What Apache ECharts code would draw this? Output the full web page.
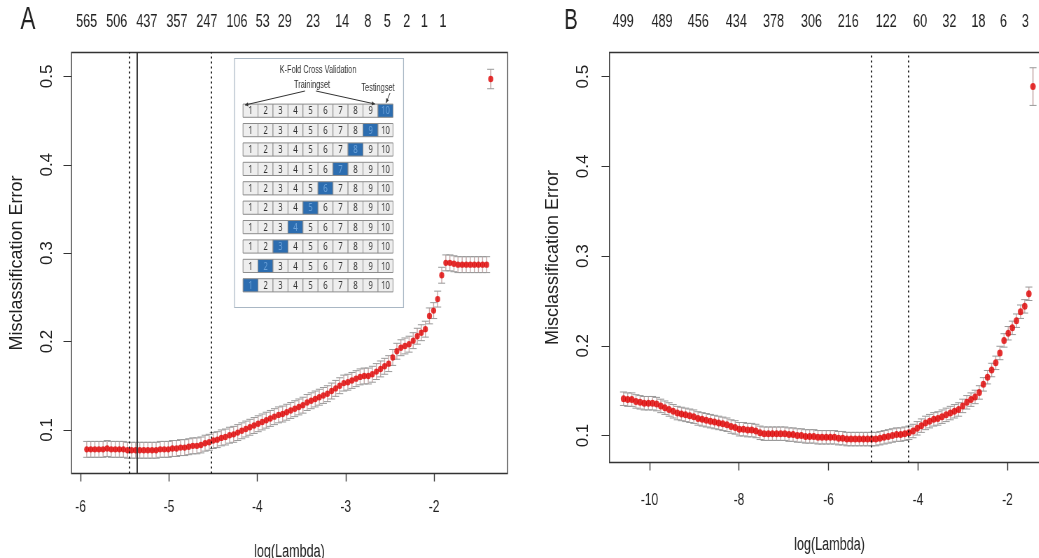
<!DOCTYPE html>
<html><head><meta charset="utf-8">
<script src="https://cdn.jsdelivr.net/npm/echarts@6/dist/echarts.min.js"></script>
<style>
html,body{margin:0;padding:0;background:#fff;overflow:hidden}
#wrap{width:1039px;height:558px;overflow:hidden;position:relative;background:#fff}
#c{width:1484px;height:558px;transform:scale(0.7,1);transform-origin:0 0;position:absolute;left:0;top:0}
#y{width:1039px;height:558px;position:absolute;left:0;top:0}
</style>
</head><body><div id="wrap"><div id="c"></div><div id="y"></div></div>
<script>
// ---------- Panel A data ----------
const logLambdaA = [-5.930,-5.884,-5.838,-5.792,-5.745,-5.699,-5.653,-5.607,-5.561,-5.515,
 -5.468,-5.422,-5.376,-5.330,-5.284,-5.238,-5.191,-5.145,-5.099,-5.053,
 -5.007,-4.961,-4.914,-4.868,-4.822,-4.776,-4.730,-4.684,-4.638,-4.591,
 -4.545,-4.499,-4.453,-4.407,-4.361,-4.314,-4.268,-4.222,-4.176,-4.130,
 -4.084,-4.037,-3.991,-3.945,-3.899,-3.853,-3.807,-3.760,-3.714,-3.668,
 -3.622,-3.576,-3.530,-3.484,-3.437,-3.391,-3.345,-3.299,-3.253,-3.207,
 -3.160,-3.114,-3.068,-3.022,-2.976,-2.930,-2.883,-2.837,-2.791,-2.745,
 -2.699,-2.653,-2.606,-2.560,-2.514,-2.468,-2.422,-2.376,-2.330,-2.283,
 -2.237,-2.191,-2.145,-2.099,-2.053,-2.006,-1.960,-1.914,-1.868,-1.822,
 -1.776,-1.730,-1.683,-1.637,-1.591,-1.545,-1.499,-1.452,-1.406,-1.360];
const errorA = [0.078,0.078,0.078,0.078,0.078,0.079,0.078,0.078,0.078,0.078,
 0.077,0.077,0.077,0.077,0.077,0.077,0.077,0.077,0.078,0.078,
 0.078,0.079,0.079,0.080,0.080,0.081,0.082,0.082,0.083,0.085,
 0.086,0.088,0.089,0.091,0.092,0.094,0.095,0.097,0.099,0.101,
 0.103,0.105,0.107,0.109,0.111,0.113,0.115,0.117,0.118,0.120,
 0.122,0.124,0.126,0.128,0.131,0.133,0.135,0.137,0.139,0.141,
 0.144,0.147,0.150,0.153,0.154,0.156,0.158,0.160,0.161,0.161,
 0.163,0.166,0.169,0.172,0.175,0.182,0.189,0.193,0.195,0.197,
 0.201,0.206,0.210,0.214,0.229,0.235,0.248,0.275,0.289,0.289,
 0.288,0.287,0.287,0.287,0.287,0.287,0.287,0.287,0.287,0.497];
const seA = [0.009,0.009,0.009,0.009,0.009,0.009,0.009,0.009,0.009,0.009,
 0.009,0.009,0.009,0.009,0.009,0.009,0.009,0.009,0.009,0.009,
 0.009,0.009,0.009,0.009,0.009,0.009,0.009,0.009,0.009,0.009,
 0.009,0.009,0.009,0.009,0.009,0.009,0.009,0.009,0.009,0.009,
 0.009,0.009,0.009,0.009,0.009,0.009,0.009,0.009,0.009,0.009,
 0.009,0.009,0.009,0.009,0.009,0.009,0.009,0.009,0.009,0.009,
 0.009,0.009,0.009,0.009,0.009,0.009,0.009,0.009,0.009,0.009,
 0.009,0.009,0.009,0.009,0.009,0.009,0.009,0.009,0.009,0.009,
 0.009,0.009,0.009,0.009,0.009,0.009,0.009,0.009,0.009,0.009,
 0.009,0.009,0.009,0.009,0.009,0.009,0.009,0.009,0.009,0.011];
const topPosA = [-5.93,-5.59,-5.25,-4.91,-4.57,-4.23,-3.94,-3.69,-3.37,-3.04,-2.75,-2.53,-2.31,-2.11,-1.90];
const topLabA = ['565','506','437','357','247','106','53','29','23','14','8','5','2','1','1'];
const bottomTicksA = [-6,-5,-4,-3,-2];
const dottedA = [-5.454, -4.518];
const solidA = [-5.362];

// ---------- Panel B data ----------
const logLambdaB = [-10.580,-10.488,-10.395,-10.303,-10.210,-10.118,-10.025,-9.933,-9.841,-9.748,
 -9.656,-9.563,-9.471,-9.378,-9.286,-9.194,-9.101,-9.009,-8.916,-8.824,
 -8.732,-8.639,-8.547,-8.454,-8.362,-8.269,-8.177,-8.085,-7.992,-7.900,
 -7.807,-7.715,-7.622,-7.530,-7.438,-7.345,-7.253,-7.160,-7.068,-6.975,
 -6.883,-6.791,-6.698,-6.606,-6.513,-6.421,-6.328,-6.236,-6.144,-6.051,
 -5.959,-5.866,-5.774,-5.682,-5.589,-5.497,-5.404,-5.312,-5.219,-5.127,
 -5.035,-4.942,-4.850,-4.757,-4.665,-4.572,-4.480,-4.388,-4.295,-4.203,
 -4.110,-4.018,-3.925,-3.833,-3.741,-3.648,-3.556,-3.463,-3.371,-3.278,
 -3.186,-3.094,-3.001,-2.909,-2.816,-2.724,-2.631,-2.539,-2.447,-2.354,
 -2.262,-2.169,-2.077,-1.984,-1.892,-1.800,-1.707,-1.615,-1.522,-1.430];
const errorB = [0.141,0.140,0.140,0.138,0.137,0.136,0.136,0.136,0.135,0.133,
 0.131,0.129,0.127,0.125,0.124,0.123,0.122,0.121,0.119,0.118,
 0.117,0.116,0.115,0.114,0.113,0.112,0.110,0.109,0.107,0.107,
 0.106,0.106,0.105,0.103,0.102,0.102,0.102,0.102,0.102,0.102,
 0.101,0.101,0.100,0.100,0.099,0.099,0.099,0.098,0.098,0.098,
 0.098,0.098,0.097,0.097,0.096,0.096,0.096,0.096,0.096,0.096,
 0.096,0.096,0.097,0.098,0.099,0.100,0.101,0.101,0.102,0.103,
 0.105,0.108,0.111,0.114,0.116,0.118,0.119,0.121,0.123,0.125,
 0.127,0.129,0.133,0.137,0.140,0.143,0.148,0.157,0.165,0.173,
 0.181,0.192,0.206,0.214,0.220,0.228,0.238,0.244,0.258,0.489];
const seB = [0.0075,0.0075,0.0075,0.0075,0.0075,0.0075,0.0075,0.0075,0.0075,0.0075,
 0.0075,0.0075,0.0075,0.0075,0.0075,0.0075,0.0075,0.0075,0.0075,0.0075,
 0.0075,0.0075,0.0075,0.0075,0.0075,0.0075,0.0075,0.0075,0.0075,0.0075,
 0.0075,0.0075,0.0075,0.0075,0.0075,0.0075,0.0075,0.0075,0.0075,0.0075,
 0.0075,0.0075,0.0075,0.0075,0.0075,0.0075,0.0075,0.0075,0.0075,0.0075,
 0.0075,0.0075,0.0075,0.0075,0.0075,0.0075,0.0075,0.0075,0.0075,0.0075,
 0.0075,0.0075,0.0075,0.0075,0.0075,0.0075,0.0075,0.0075,0.0075,0.0075,
 0.0075,0.0075,0.0075,0.0075,0.0075,0.0075,0.0075,0.0075,0.0075,0.0075,
 0.0075,0.0075,0.0075,0.0075,0.0075,0.0075,0.0075,0.0075,0.0075,0.0075,
 0.0075,0.0075,0.0075,0.0075,0.0075,0.0075,0.0075,0.0075,0.0075,0.021];
const topPosB = [-10.59,-9.72,-8.91,-8.06,-7.23,-6.38,-5.56,-4.71,-3.95,-3.30,-2.65,-2.09,-1.60];
const topLabB = ['499','489','456','434','378','306','216','122','60','32','18','6','3'];
const bottomTicksB = [-10,-8,-6,-4,-2];
const dottedB = [-5.046, -4.212];

const yTicks = [0.1,0.2,0.3,0.4,0.5];

// ---------- Inset (K-fold diagram) data ----------
const folds = ['1','2','3','4','5','6','7','8','9','10'];
const rows = ['r1','r2','r3','r4','r5','r6','r7','r8','r9','r10']; // bottom to top
const testFoldOfRow = [1,2,3,4,5,6,7,8,9,10];

// ---------- layout / styles ----------
const S = 0.7; // horizontal squeeze of the main figure (CSS)
const X = v => v / S;
const SANS = '"Liberation Sans",Arial,sans-serif';
const RED = '#e00000';
const STEM = '#c4a6a6';
const CAP = '#999999';
const yRangeA = [0.0507, 0.527];
const yRangeB = [0.0699, 0.527];
const xRangeA = [-6.102, -1.170];
const xRangeB = [-10.894, -1.061];

function labelFrom(pos, lab) {
  return function (v) {
    for (let k = 0; k < pos.length; k++) if (Math.abs(pos[k] - v) < 1e-6) return lab[k];
    return '';
  };
}

function errRender(params, api) {
  const x = api.value(0), y = api.value(1), se = api.value(2);
  const t = api.coord([x, y + se]), b = api.coord([x, y - se]);
  const w = 5;
  return { type: 'group', children: [
    { type: 'line', shape: { x1: t[0], y1: t[1], x2: b[0], y2: b[1] }, style: { stroke: STEM, lineWidth: 1.4 } },
    { type: 'line', shape: { x1: t[0] - w, y1: t[1], x2: t[0] + w, y2: t[1] }, style: { stroke: CAP, lineWidth: 1 } },
    { type: 'line', shape: { x1: b[0] - w, y1: b[1], x2: b[0] + w, y2: b[1] }, style: { stroke: CAP, lineWidth: 1 } }
  ]};
}

function cellRender(params, api) {
  const c = api.value(0), r = api.value(1), hi = api.value(2);
  const p = api.coord([c, r]);
  const s = api.size([1, 1]);
  const h = s[1] * 0.68;
  return { type: 'group', children: [
    { type: 'rect', shape: { x: p[0] - s[0] / 2, y: p[1] - h / 2, width: s[0], height: h },
      style: { fill: hi ? '#2c6db0' : '#eeeeee', stroke: '#8c8c8c', lineWidth: 1 } },
    { type: 'text', style: { x: p[0], y: p[1] + 0.5, text: folds[c], align: 'center', verticalAlign: 'middle',
      fontSize: 11, fontFamily: '"Noto Sans",sans-serif', fill: hi ? '#6da3da' : '#333' } }
  ]};
}

const cellData = [];
for (let r = 0; r < rows.length; r++)
  for (let c = 0; c < folds.length; c++)
    cellData.push([c, r, (testFoldOfRow[r] - 1 === c) ? 1 : 0]);

function arrowHead(x1, y1, x2, y2, size) {
  const a = Math.atan2(y2 - y1, x2 - x1);
  return [[x2, y2],
    [x2 - size * Math.cos(a - 0.45), y2 - size * Math.sin(a - 0.45)],
    [x2 - size * Math.cos(a + 0.45), y2 - size * Math.sin(a + 0.45)]];
}
const arrows = [[305, 91, 245, 105], [316, 91, 375, 104], [390, 93, 386, 103]];
const arrowGraphics = [];
arrows.forEach(a => {
  const x1 = X(a[0]), y1 = a[1], x2 = X(a[2]), y2 = a[3];
  arrowGraphics.push({ type: 'line', z: 20, shape: { x1: x1, y1: y1, x2: x2, y2: y2 }, style: { stroke: '#333', lineWidth: 1 } });
  arrowGraphics.push({ type: 'polygon', z: 20, shape: { points: arrowHead(x1, y1, x2, y2, 5) }, style: { fill: '#333' } });
});

function bottomAxis(grid, range, ticks, margin, gap) {
  return { gridIndex: grid, type: 'value', min: range[0], max: range[1], position: 'bottom',
    axisLine: { show: false }, splitLine: { show: false },
    axisTick: { show: true, customValues: ticks, length: 8, lineStyle: { color: '#333', width: 1.4 } },
    axisLabel: { customValues: ticks, margin: margin, fontSize: 17, fontFamily: SANS, color: '#222',
      formatter: v => String(v) },
    name: 'log(Lambda)', nameLocation: 'middle', nameGap: gap,
    nameTextStyle: { fontSize: 18, fontFamily: SANS, color: '#222' } };
}
function topAxis(grid, range, pos, lab) {
  return { gridIndex: grid, type: 'value', min: range[0], max: range[1], position: 'top',
    axisLine: { show: false }, splitLine: { show: false }, axisTick: { show: false },
    axisLabel: { customValues: pos, margin: 21, fontSize: 18, fontFamily: SANS, color: '#222',
      formatter: labelFrom(pos, lab) } };
}
function hiddenY(grid, range) {
  return { gridIndex: grid, type: 'value', min: range[0], max: range[1],
    axisLine: { show: false }, splitLine: { show: false }, axisTick: { show: false }, axisLabel: { show: false } };
}
function leftAxis(grid, range, margin, gap) {
  return { gridIndex: grid, type: 'value', min: range[0], max: range[1],
    axisLine: { show: false }, splitLine: { show: false },
    axisTick: { show: true, customValues: yTicks, length: 8, lineStyle: { color: '#333', width: 1 } },
    axisLabel: { customValues: yTicks, rotate: 90, margin: margin, fontSize: 17, fontFamily: SANS, color: '#222',
      formatter: v => v.toFixed(1) },
    name: 'Misclassification Error', nameLocation: 'middle', nameRotate: 90, nameGap: gap,
    nameTextStyle: { fontSize: 18, fontFamily: SANS, color: '#222' } };
}

const dotted = { type: [2, 3], color: '#000', width: 1.7 };

// main (horizontally squeezed) figure
const chart = echarts.init(document.getElementById('c'), null, { renderer: 'canvas' });
chart.setOption({
  animation: false,
  backgroundColor: '#fff',
  grid: [
    { left: X(71.5), top: 52.5, width: X(436), height: 421, show: true, borderColor: '#333', borderWidth: 1.3, backgroundColor: 'transparent', outerBoundsMode: 'none' },
    { left: X(609.5), top: 52.5, width: X(440), height: 410, show: true, borderColor: '#333', borderWidth: 1.3, backgroundColor: 'transparent', outerBoundsMode: 'none' },
    { left: X(243), top: 101, width: X(150), height: 194, outerBoundsMode: 'none' }
  ],
  xAxis: [
    bottomAxis(0, xRangeA, bottomTicksA, 25, 70),
    topAxis(0, xRangeA, topPosA, topLabA),
    bottomAxis(1, xRangeB, bottomTicksB, 29, 74),
    topAxis(1, xRangeB, topPosB, topLabB),
    { gridIndex: 2, type: 'category', data: folds, show: false }
  ],
  yAxis: [
    hiddenY(0, yRangeA),
    hiddenY(1, yRangeB),
    { gridIndex: 2, type: 'category', data: rows, show: false }
  ],
  graphic: [
    { type: 'text', z: 30, x: X(28), y: 20, style: { text: 'A', fontSize: 32, fontFamily: SANS, fill: '#222', align: 'center', verticalAlign: 'middle' } },
    { type: 'text', z: 30, x: X(571), y: 21, style: { text: 'B', fontSize: 29, fontFamily: SANS, fill: '#222', align: 'center', verticalAlign: 'middle' } },
    { type: 'rect', z: 1, shape: { x: X(234.5), y: 58.5, width: X(169), height: 249 }, style: { fill: '#fff', stroke: '#a9b7c4', lineWidth: 1.2 } },
    { type: 'text', z: 20, x: X(318), y: 70, style: { text: 'K-Fold Cross Validation', fontSize: 10.5, fontFamily: SANS, fill: '#333', align: 'center', verticalAlign: 'middle' } },
    { type: 'text', z: 20, x: X(312), y: 85, style: { text: 'Trainingset', fontSize: 10.5, fontFamily: SANS, fill: '#333', align: 'center', verticalAlign: 'middle' } },
    { type: 'text', z: 20, x: X(378), y: 88, style: { text: 'Testingset', fontSize: 10.5, fontFamily: SANS, fill: '#333', align: 'center', verticalAlign: 'middle' } }
  ].concat(arrowGraphics),
  series: [
    { type: 'custom', xAxisIndex: 0, yAxisIndex: 0, renderItem: errRender, z: 3,
      dimensions: ['x', 'y', 'se'], encode: { x: 0, y: 1 },
      data: logLambdaA.map((x, i) => [x, errorA[i], seA[i]]) },
    { type: 'scatter', xAxisIndex: 0, yAxisIndex: 0, z: 4, symbol: 'circle', symbolSize: [7.2, 6.4],
      itemStyle: { color: RED },
      data: logLambdaA.map((x, i) => [x, errorA[i]]),
      markLine: { silent: true, symbol: 'none', label: { show: false }, animation: false,
        data: dottedA.map(v => ({ xAxis: v, lineStyle: dotted }))
          .concat(solidA.map(v => ({ xAxis: v, lineStyle: { type: 'solid', color: '#333', width: 1.9 } }))) } },
    { type: 'custom', xAxisIndex: 2, yAxisIndex: 1, renderItem: errRender, z: 3,
      dimensions: ['x', 'y', 'se'], encode: { x: 0, y: 1 },
      data: logLambdaB.map((x, i) => [x, errorB[i], seB[i]]) },
    { type: 'scatter', xAxisIndex: 2, yAxisIndex: 1, z: 4, symbol: 'circle', symbolSize: [7.8, 7],
      itemStyle: { color: RED },
      data: logLambdaB.map((x, i) => [x, errorB[i]]),
      markLine: { silent: true, symbol: 'none', label: { show: false }, animation: false,
        data: dottedB.map(v => ({ xAxis: v, lineStyle: dotted })) } },
    { type: 'custom', xAxisIndex: 4, yAxisIndex: 2, renderItem: cellRender, z: 10,
      dimensions: ['col', 'row', 'test'], encode: { x: 0, y: 1 },
      data: cellData }
  ]
});

// y axes drawn unsqueezed (vertical text keeps its normal proportions)
const yChart = echarts.init(document.getElementById('y'), null, { renderer: 'canvas' });
yChart.setOption({
  animation: false,
  backgroundColor: 'transparent',
  grid: [
    { left: 71.5, top: 52.5, width: 436, height: 421, outerBoundsMode: 'none' },
    { left: 609.5, top: 52.5, width: 440, height: 410, outerBoundsMode: 'none' }
  ],
  xAxis: [
    { gridIndex: 0, type: 'value', min: xRangeA[0], max: xRangeA[1], show: false },
    { gridIndex: 1, type: 'value', min: xRangeB[0], max: xRangeB[1], show: false }
  ],
  yAxis: [
    leftAxis(0, yRangeA, 16, 45),
    leftAxis(1, yRangeB, 18, 47)
  ],
  series: []
});
</script>
</body></html>
